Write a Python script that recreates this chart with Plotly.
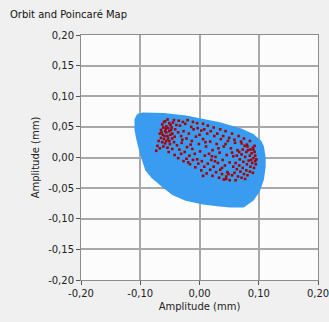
import plotly.graph_objects as go

# Axis ticks
x_tickvals = [-0.20, -0.10, 0.00, 0.10, 0.20]
x_ticktext = ["-0,20", "-0,10", "0,00", "0,10", "0,20"]
y_tickvals = [-0.20, -0.15, -0.10, -0.05, 0.00, 0.05, 0.10, 0.15, 0.20]
y_ticktext = ["-0,20", "-0,15", "-0,10", "-0,05", "0,00", "0,05", "0,10", "0,15", "0,20"]

# Orbit envelope
orbit_x = [-0.104, -0.095, -0.060, -0.023, 0.034, 0.070, 0.090, 0.103, 0.107, 0.110, 0.110,
           0.107, 0.100, 0.090, 0.074, 0.051, 0.030, 0.006, -0.023, -0.045, -0.062, -0.080,
           -0.090, -0.099, -0.105, -0.108, -0.108, -0.104]
orbit_y = [0.070, 0.072, 0.071, 0.067, 0.056, 0.046, 0.037, 0.026, 0.018, 0.000, -0.015,
           -0.036, -0.055, -0.069, -0.080, -0.080, -0.078, -0.075, -0.069, -0.060, -0.047, -0.032,
           -0.020, 0.007, 0.030, 0.045, 0.062, 0.070]

# Poincaré points
pts = [
    # dense upper-left cluster
    (-0.063,0.054),(-0.058,0.059),(-0.054,0.062),(-0.051,0.056),(-0.061,0.049),(-0.056,0.051),
    (-0.049,0.053),(-0.065,0.045),(-0.058,0.043),(-0.053,0.048),(-0.047,0.049),(-0.045,0.057),
    (-0.043,0.061),(-0.067,0.039),(-0.062,0.037),(-0.056,0.041),(-0.051,0.043),(-0.048,0.045),
    (-0.041,0.046),(-0.065,0.032),(-0.060,0.030),(-0.054,0.035),(-0.049,0.037),(-0.046,0.039),
    (-0.063,0.025),(-0.058,0.023),(-0.051,0.027),(-0.046,0.031),(-0.042,0.034),(-0.061,0.018),
    (-0.054,0.016),(-0.050,0.022),(-0.043,0.025),(-0.069,0.027),(-0.071,0.019),(-0.073,0.011),
    (-0.067,0.015),(-0.052,0.009),(-0.046,0.014),(-0.039,0.053),
    (-0.060,0.058),(-0.057,0.047),(-0.064,0.041),(-0.059,0.035),(-0.053,0.031),(-0.056,0.027),
    # middle, scattered
    (-0.036,0.041),(-0.031,0.035),(-0.027,0.043),(-0.022,0.031),(-0.018,0.039),(-0.013,0.027),
    (-0.010,0.046),(-0.006,0.034),(-0.001,0.022),(0.003,0.044),(0.006,0.030),(0.011,0.018),
    (0.013,0.039),(0.018,0.026),(0.022,0.012),(0.025,0.035),(0.029,0.022),(0.034,0.008),
    (0.036,0.030),(0.041,0.018),(0.046,0.004),(0.048,0.027),(0.053,0.015),(0.057,0.002),
    (0.060,0.024),(0.064,0.012),
    (-0.038,0.020),(-0.034,0.013),(-0.030,0.024),(-0.025,0.009),(-0.021,0.017),(-0.017,0.003),
    (-0.012,0.014),(-0.008,0.006),(-0.004,-0.003),(0.001,0.010),(0.004,-0.006),(0.009,0.003),
    (0.014,-0.010),(0.016,0.006),(0.020,-0.004),(0.024,-0.015),(0.027,0.001),(0.031,-0.009),
    (0.035,-0.020),(0.039,-0.004),(0.043,-0.013),(0.047,-0.024),(0.051,-0.008),
    (-0.042,0.004),(-0.036,-0.001),(-0.031,0.006),(-0.027,-0.006),(-0.022,-0.002),(-0.016,-0.011),
    (-0.011,-0.004),(-0.007,-0.016),(-0.002,-0.010),(0.003,-0.021),(0.008,-0.015),(0.012,-0.026),
    (0.018,-0.020),(0.022,-0.030),(0.028,-0.024),(0.033,-0.033),(0.038,-0.027),(0.041,-0.036),
    (0.045,-0.031),
    (-0.033,0.052),(-0.024,0.055),(-0.014,0.050),(-0.003,0.048),(0.008,0.046),(0.019,0.043),
    (0.030,0.039),(0.040,0.035),(0.050,0.032),(0.059,0.029),(0.070,0.026),(0.080,0.021),
    (-0.029,0.029),(-0.015,0.021),(0.000,0.037),(0.010,0.025),(0.021,0.002),(0.032,0.015),
    (0.044,0.022),(0.055,0.008),(0.038,-0.017),(0.026,-0.006),(-0.019,-0.008),(0.006,-0.030),
    # upper edge
    (-0.035,0.060),(-0.028,0.058),(-0.020,0.061),(-0.011,0.058),(-0.004,0.056),(0.006,0.055),
    (0.014,0.052),(0.024,0.049),(0.035,0.046),(0.044,0.043),(0.055,0.039),(0.066,0.035),
    (0.075,0.031),(0.085,0.027),
    # dense right cluster
    (0.071,0.023),(0.076,0.019),(0.081,0.018),(0.086,0.013),(0.091,0.013),(0.093,0.019),
    (0.088,0.007),(0.094,0.003),(0.096,-0.003),(0.091,-0.001),(0.085,0.003),(0.079,0.009),
    (0.073,0.013),(0.067,0.009),(0.071,0.005),(0.077,0.001),(0.083,-0.005),(0.089,-0.009),
    (0.095,-0.011),(0.092,-0.017),(0.086,-0.015),(0.080,-0.011),(0.074,-0.007),(0.068,-0.003),
    (0.063,0.003),(0.061,-0.009),(0.067,-0.013),(0.073,-0.017),(0.079,-0.021),(0.085,-0.023),
    (0.090,-0.025),(0.081,-0.029),(0.075,-0.027),(0.069,-0.023),(0.063,-0.019),(0.057,-0.015),
    (0.059,-0.025),(0.065,-0.031),(0.071,-0.033),(0.077,-0.035),(0.061,-0.037),(0.055,-0.029),
    (0.049,-0.027),(0.051,-0.037),(0.045,-0.035),(0.093,0.009),(0.090,0.016),(0.087,-0.004),
    (0.094,-0.006),(0.082,0.012),
]
poincare_x = [p[0] for p in pts]
poincare_y = [p[1] for p in pts]

BLUE = "#3a9cf0"
RED = "#a80000"

fig = go.Figure()
fig.add_trace(go.Scatter(
    x=orbit_x, y=orbit_y, mode="lines", fill="toself",
    fillcolor=BLUE, line=dict(color=BLUE, width=2), hoverinfo="skip",
))
fig.add_trace(go.Scatter(
    x=poincare_x, y=poincare_y, mode="markers",
    marker=dict(color=RED, size=2.6, symbol="square", line=dict(width=0)),
))

axis_common = dict(
    showgrid=True, gridcolor="#a8a8a8", gridwidth=1.5,
    zeroline=False, showline=True, linecolor="#8c8c8c", linewidth=1,
    mirror=True, ticks="outside", ticklen=4, tickcolor="#555555",
    ticklabeloverflow="allow", automargin=False,
    tickfont=dict(family="DejaVu Sans", size=10, color="#222222"),
)

fig.update_layout(
    width=329, height=322,
    margin=dict(l=81, r=11, t=35, b=42),
    paper_bgcolor="#f0f0f0", plot_bgcolor="#fcfcfc",
    showlegend=False,
    title=dict(text="Orbit and Poincaré Map", x=0.0, xref="container", xanchor="left",
               y=1-14/322, yanchor="middle", pad=dict(l=10, r=0, t=0, b=0),
               font=dict(family="DejaVu Sans", size=10, color="#111111")),
    xaxis=dict(range=[-0.20, 0.20], tickvals=x_tickvals, ticktext=x_ticktext,
               title=dict(text="Amplitude (mm)", standoff=4,
                          font=dict(family="DejaVu Sans", size=10, color="#222222")),
               **axis_common),
    yaxis=dict(range=[-0.20, 0.20], tickvals=y_tickvals, ticktext=y_ticktext,
               title=dict(text="Amplitude (mm)", standoff=6,
                          font=dict(family="DejaVu Sans", size=10, color="#222222")),
               **axis_common),
)

fig.write_html(
    "out.html",
    config={"displayModeBar": False},
    post_script="document.body.style.margin='0';document.body.style.background='#f0f0f0';",
)
